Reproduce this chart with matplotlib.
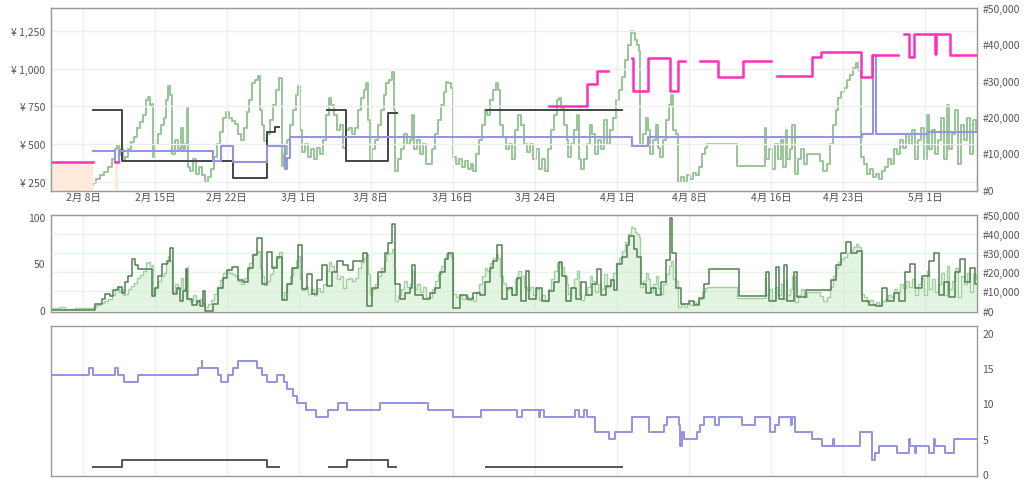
import numpy as np
import matplotlib.pyplot as plt
from matplotlib.ticker import FuncFormatter

plt.rcParams['font.family'] = ['Noto Sans CJK JP', 'DejaVu Sans']

nan = np.nan

# x = 2月1日からの日数
tick_days = [7, 14, 21, 28, 35, 43, 51, 59, 66, 74, 81, 89]
tick_labels = ['2月 8日', '2月 15日', '2月 22日', '3月 1日', '3月 8日', '3月 16日',
               '3月 24日', '4月 1日', '4月 8日', '4月 16日', '4月 23日', '5月 1日']
month_days = [28, 59, 89]
x_range = (3.88, 94.05)

# Amazon価格 (塗りつぶし)
amazon_days = [3.88, 7.97, 7.97, 10.12, 10.12, 10.45]
amazon_price = [383, 383, nan, nan, 383, 383]

# カート価格 (ピンク)
buybox_days = [3.88, 7.97, 10.12, 10.45, 52.4, 56.04, 57.01, 58.14, 60.42, 60.58, 61.98,
               64.15, 64.96, 65.6, 67.07, 68.86, 71.23, 73.95, 74.54, 77.95, 78.86, 82.75,
               83.79, 86.32, 86.97, 87.43, 87.94, 89.96, 90.05, 91.42, 94.05]
buybox_price = [383, nan, 383, nan, 755, 900, 988, nan, 1070, 851, 1070,
                851, 1055, nan, 1055, 948, 1055, nan, 955, 1077, 1115, 948,
                1095, nan, 1232, 1081, 1232, 1100, 1232, 1095, 1095]

# 新品価格 (青)
new_days = [7.97, 10.12, 10.51, 19.69, 20.41, 21.63, 24.93, 26.67, 26.86, 27.16,
            60.45, 61.98, 82.82, 83.92, 84.2, 89.28, 94.05]
new_price = [452, 383, 452, 390, 489, 383, 489, 337, 408, 545,
             489, 545, 567, 1095, 570, 583, 583]

# 中古価格 (黒)
used_days = [7.99, 10.75, 21.63, 24.88, 25.7, 26.11, 30.72, 32.6, 36.73, 37.54, 46.24, 59.45]
used_price = [729, 390, 273, 578, 616, nan, 727, 390, 705, nan, 727, nan]

# 売れ筋ランキング
rank_days = [3.88, 4.27, 4.76, 5.25, 5.73, 6.22, 6.71, 7.19, 7.68, 7.97,
             8.27, 8.66, 9.04, 9.43, 9.82, 10.12, 10.31, 10.51, 10.70, 10.89,
             11.09, 11.38, 11.67, 11.97, 12.26, 12.55, 12.84, 13.13, 13.33, 13.52,
             13.72, 13.77, 14.01, 14.30, 14.59, 14.89, 15.08, 15.28, 15.47, 15.62,
             15.67, 15.96, 16.25, 16.54, 16.74, 16.93, 17.08, 17.18, 17.42, 17.71,
             18.00, 18.29, 18.59, 18.88, 19.17, 19.46, 19.76, 20.05, 20.34, 20.63,
             20.92, 21.22, 21.51, 21.80, 22.09, 22.38, 22.68, 22.97, 23.16, 23.46,
             23.75, 24.04, 24.23, 24.43, 24.62, 24.92, 25.21, 25.50, 25.79, 26.08,
             26.33, 26.57, 26.86, 27.16, 27.45, 27.74, 27.93, 28.13, 28.32, 28.62,
             28.91, 29.20, 29.49, 29.78, 30.08, 30.37, 30.66, 30.95, 31.15, 31.44,
             31.73, 32.02, 32.32, 32.61, 32.90, 33.19, 33.48, 33.78, 34.07, 34.36,
             34.56, 34.75, 34.95, 35.14, 35.43, 35.72, 36.02, 36.31, 36.50, 36.80,
             37.09, 37.28, 37.38, 37.67, 37.96, 38.26, 38.55, 38.84, 39.03, 39.23,
             39.52, 39.81, 40.11, 40.40, 40.69, 40.98, 41.27, 41.57, 41.86, 42.15,
             42.35, 42.54, 42.83, 43.03, 43.32, 43.61, 43.90, 44.20, 44.49, 44.78,
             44.97, 45.27, 45.56, 45.85, 46.14, 46.34, 46.63, 46.92, 47.21, 47.41,
             47.60, 47.90, 48.19, 48.48, 48.77, 49.06, 49.36, 49.65, 49.94, 50.23,
             50.52, 50.82, 51.11, 51.40, 51.69, 51.98, 52.28, 52.57, 52.86, 53.15,
             53.35, 53.54, 53.83, 54.13, 54.22, 54.52, 54.81, 55.10, 55.30, 55.49,
             55.78, 56.07, 56.37, 56.56, 56.85, 57.15, 57.44, 57.73, 58.02, 58.31,
             58.61, 58.90, 59.19, 59.48, 59.77, 60.07, 60.36, 60.55, 60.75, 60.94,
             61.14, 61.24, 61.53, 61.82, 62.01, 62.21, 62.50, 62.79, 62.99, 63.18,
             63.47, 63.77, 64.06, 64.25, 64.45, 64.74, 64.94, 65.23, 65.52, 65.81,
             66.10, 66.40, 66.69, 66.98, 67.27, 67.56, 67.76, 70.68, 73.41, 73.50,
             73.80, 74.09, 74.38, 74.67, 74.96, 75.16, 75.45, 75.55, 75.84, 76.04,
             76.33, 76.62, 76.91, 77.20, 77.50, 78.76, 79.05, 79.44, 79.74, 80.03,
             80.32, 80.51, 80.81, 81.10, 81.39, 81.68, 81.97, 82.27, 82.46, 82.75,
             83.05, 83.34, 83.63, 83.92, 84.21, 84.51, 84.80, 85.09, 85.38, 85.67,
             85.97, 86.26, 86.55, 86.84, 87.14, 87.43, 87.72, 88.01, 88.30, 88.60,
             88.89, 89.18, 89.37, 89.67, 89.96, 90.25, 90.54, 90.84, 91.13, 91.32,
             91.62, 91.91, 92.20, 92.49, 92.79, 93.08, 93.37, 93.66, 93.95, 94.05]
rank_vals = [1600, 1300, 1800, 1000, 1000, 1300, 1300, 1600, 1300, 1800,
             2900, 4000, 4800, 6200, 8400, 11100, 12200, 9500, 11100, 8400,
             8900, 11100, 13000, 14600, 17100, 18700, 20600, 24700, 25500, 23300,
             23600, 8900, 12500, 15200, 17900, 19800, 24700, 28500, 26100, 19800,
             9700, 13800, 11100, 17100, 11100, 12500, 22500, 6200, 5100, 8400,
             4300, 6200, 4000, 2100, 3500, 5600, 8900, 12500, 16000, 19800,
             21400, 19800, 19000, 18200, 15200, 13800, 17100, 21400, 24700, 29300,
             30200, 31300, 22000, 17900, 13300, 15200, 19300, 23300, 27400, 30700,
             6500, 9700, 13800, 17900, 22000, 26100, 28500, 16500, 10500, 12500,
             8900, 11100, 8400, 11600, 9700, 13800, 20600, 25300, 23300, 20600,
             16500, 17900, 11600, 16500, 17100, 15200, 17100, 22000, 25300, 27400,
             29300, 19300, 8400, 11100, 13800, 17900, 22000, 26100, 29300, 30200,
             32300, 22000, 5100, 8400, 11100, 15200, 12500, 13800, 20600, 11100,
             13800, 9700, 12500, 7000, 7000, 11100, 15200, 19300, 23300, 26900,
             29600, 29300, 28000, 8900, 7000, 8400, 6200, 7800, 5600, 7000,
             5100, 9700, 13800, 17900, 22000, 20600, 24700, 27400, 29300, 27400,
             17900, 14400, 11100, 12500, 8400, 16500, 20600, 17900, 12500, 10500,
             12500, 8400, 11100, 5600, 8400, 5100, 11100, 16500, 20600, 24700,
             25300, 22500, 17900, 13800, 8900, 12500, 16500, 20600, 8400, 5600,
             8400, 12500, 17900, 15200, 9700, 13800, 11100, 19300, 12500, 16500,
             19800, 24700, 27400, 31000, 35600, 39700, 43800, 43000, 41100, 39700,
             38300, 12500, 15200, 19800, 16500, 9700, 13800, 17900, 11600, 8900,
             13800, 19300, 23300, 26100, 16500, 15200, 2100, 3500, 2100, 4000,
             2900, 4600, 4000, 6200, 9700, 11600, 12500, 6500, 17100, 8400,
             11100, 5600, 12500, 8400, 13800, 6200, 16500, 8400, 11100, 17900,
             4300, 8400, 11100, 7000, 9700, 7800, 5100, 7000, 12500, 17900,
             22000, 25300, 26900, 28000, 30200, 31500, 33400, 34800, 32900, 8900,
             7000, 4300, 5600, 3500, 4300, 2900, 5100, 6200, 8400, 7000,
             11100, 9700, 13800, 11600, 15200, 12500, 16500, 8400, 13800, 17100,
             8400, 20600, 11100, 16500, 9700, 13800, 19800, 8400, 23300, 11100,
             15200, 22000, 7000, 17900, 13800, 19800, 9700, 19300, 16500, 16500]

# サブカテゴリのランキング (中段の濃い緑)
rank2_days = [3.95, 5.41, 7.03, 8.17, 8.82, 9.14, 9.63, 9.95, 10.44, 10.77,
              11.09, 11.41, 11.74, 12.06, 12.38, 13.69, 14.01, 14.33, 14.66, 15.14,
              15.47, 15.73, 16.12, 16.44, 16.77, 17.00, 17.09, 17.58, 18.07, 18.39,
              18.71, 18.88, 19.69, 20.17, 20.66, 20.99, 21.48, 22.12, 22.61, 23.10,
              23.58, 23.97, 24.40, 24.89, 25.37, 25.86, 26.35, 26.83, 27.32, 27.97,
              28.29, 28.78, 29.27, 29.75, 30.24, 30.73, 31.21, 31.70, 32.35, 32.84,
              33.32, 34.29, 34.62, 35.11, 35.75, 36.40, 36.73, 37.05, 37.38, 37.87,
              38.35, 38.84, 39.06, 39.33, 40.14, 40.79, 41.27, 41.76, 42.25, 42.57,
              43.06, 43.71, 44.36, 45.01, 45.66, 46.14, 46.63, 46.95, 47.28, 47.77,
              48.25, 48.80, 49.28, 49.61, 50.09, 50.42, 51.07, 51.72, 52.37, 52.86,
              53.34, 53.67, 53.99, 54.48, 54.97, 55.45, 55.94, 56.59, 57.08, 57.40,
              57.89, 58.37, 58.71, 59.03, 59.52, 60.00, 60.17, 60.66, 60.98, 61.31,
              61.79, 62.28, 62.77, 63.25, 63.74, 64.13, 64.39, 64.71, 65.20, 66.02,
              66.50, 66.99, 67.47, 67.96, 70.88, 73.47, 73.80, 74.44, 74.77, 75.25,
              75.58, 76.22, 76.55, 77.36, 79.31, 79.79, 80.28, 80.77, 81.25, 81.74,
              82.39, 82.88, 83.52, 84.17, 84.82, 85.30, 85.95, 86.44, 87.08, 87.57,
              88.05, 88.70, 89.35, 89.84, 90.33, 90.81, 91.30, 91.95, 92.43, 92.92,
              93.40, 93.89, 94.05]
rank2_vals = [500, 300, 200, 3500, 6000, 8500, 7500, 10500, 12100, 9000,
              15000, 18300, 27100, 24000, 21800, 7600, 12000, 18000, 24500, 26000,
              32400, 8500, 12000, 5000, 10000, 21800, 6000, 3000, 5000, 2500,
              10300, 0, 3500, 12000, 17000, 21000, 23000, 16000, 14700, 22000,
              28900, 37800, 13800, 30700, 22000, 28000, 5300, 14000, 22000, 34200,
              11200, 19000, 8500, 16000, 24000, 13000, 20000, 26000, 23600, 21000,
              26000, 29800, 2300, 12000, 20000, 30000, 35000, 44900, 13800, 6000,
              9000, 12000, 23600, 8000, 6000, 9400, 12000, 20000, 27000, 30100,
              1400, 8000, 6000, 9400, 8000, 15000, 22000, 26000, 34200, 5900,
              12000, 8000, 17000, 5000, 20600, 6000, 12000, 5000, 10000, 15000,
              25400, 18000, 5000, 12000, 6000, 15000, 8000, 14000, 21800, 8000,
              13000, 16000, 11000, 24500, 28000, 34000, 38700, 32000, 28000, 13800,
              9000, 12000, 8000, 15000, 26200, 48400, 30000, 12000, 3500, 5000,
              3200, 6700, 13800, 21800, 7600, 20000, 5000, 23000, 6000, 24000,
              5000, 20000, 7000, 10800, 10800, 16000, 24000, 30000, 36000, 30000,
              31000, 5000, 3000, 2500, 12000, 5000, 9000, 5000, 20000, 24500,
              12000, 18000, 26000, 29800, 8000, 15000, 7000, 20000, 27100, 15000,
              22000, 13800, 13800]

# 出品者数 (新品 / 中古)
new_cnt_days = [3.95, 7.61, 8.00, 10.12, 10.44, 10.99, 12.38, 18.23, 18.56, 18.63,
                20.17, 20.41, 21.15, 21.58, 22.06, 23.97, 24.40, 24.95, 25.86, 26.57,
                26.89, 27.48, 27.80, 28.71, 29.69, 30.88, 31.86, 32.68, 35.92, 40.62,
                43.06, 45.72, 49.26, 49.75, 51.37, 51.53, 51.86, 54.94, 55.27, 55.75,
                56.07, 56.88, 58.19, 58.83, 60.46, 62.08, 63.54, 63.86, 65.00, 65.13,
                65.32, 65.52, 66.78, 67.08, 67.44, 68.57, 68.90, 71.17, 72.46, 73.92,
                74.41, 74.74, 75.94, 76.03, 76.36, 77.98, 78.96, 80.03, 80.12, 82.68,
                83.82, 84.14, 84.47, 86.26, 87.40, 87.52, 88.01, 88.11, 89.34, 89.86,
                89.96, 90.96, 91.84, 94.05]
new_cnt = [14, 15, 14, 15, 14, 13, 14, 15, 16, 15,
           14, 13, 14, 15, 16, 15, 14, 13, 14, 13,
           12, 11, 10, 9, 8, 9, 10, 9, 10, 9,
           8, 9, 8, 9, 8, 9, 8, 9, 8, 9,
           8, 6, 5, 6, 8, 6, 7, 8, 7, 4,
           6, 5, 6, 7, 8, 7, 8, 7, 8, 6,
           7, 8, 7, 8, 6, 5, 4, 5, 4, 6,
           2, 3, 4, 3, 5, 4, 3, 4, 3, 5,
           4, 3, 5, 5]

used_cnt_days = [7.99, 10.75, 24.89, 26.11, 30.91, 32.67, 36.66, 37.48, 46.24, 59.48]
used_cnt = [1, 2, 1, nan, 1, 2, 1, nan, 1, nan]


def estilo(ax):
    for s in ax.spines.values():
        s.set_color('#9a9a9a')
        s.set_linewidth(1)
    ax.tick_params(axis='both', which='major', length=0, labelsize=7.5,
                   labelcolor='#555555', pad=4)
    ax.set_xlim(*x_range)
    ax.set_xticks(tick_days)
    ax.set_xticks(month_days, minor=True)
    ax.tick_params(axis='x', which='minor', direction='in', length=3, color='#999999')
    ax.grid(axis='x', color='#eeeeee', linewidth=1)
    ax.set_axisbelow(True)


def eixo_rank(ax_base):
    # eixo direito (#) sobre o mesmo x, sem mexer nos rótulos de data
    axr = ax_base.twinx()
    for s in axr.spines.values():
        s.set_color('#9a9a9a')
    axr.tick_params(axis='y', length=0, labelsize=7.5, labelcolor='#555555', pad=4)
    axr.set_yticks(range(0, 50001, 10000))
    axr.yaxis.set_major_formatter(FuncFormatter(lambda v, p: '#{:,}'.format(int(v))))
    return axr


fig = plt.figure(figsize=(10.24, 4.81), dpi=100)

# ---- 上段: 価格 + ランキング
ax1 = fig.add_axes([0.0498, 0.6008, 0.9043, 0.3805])
estilo(ax1)
ax1r = eixo_rank(ax1)
ax1.set_zorder(ax1r.get_zorder() + 1)
ax1.patch.set_visible(False)

ax1r.step(rank_days, rank_vals, where='post', color='#97c697', lw=1.4)
ax1r.set_ylim(-360, 50000)

ax1.fill_between(amazon_days, amazon_price, 0, color='#fdeadb', lw=0)
ax1.step(used_days, used_price, where='post', color='#444444', lw=1.4)
ax1.step(new_days, new_price, where='post', color='#9494e0', lw=1.5)
ax1.step(buybox_days, buybox_price, where='post', color='#ff2fb9', lw=1.8)
ax1.set_ylim(188, 1405)
ax1.set_yticks([250, 500, 750, 1000, 1250])
ax1.yaxis.set_major_formatter(FuncFormatter(lambda v, p: '¥ {:,}'.format(int(v))))
ax1.grid(axis='y', color='#eeeeee', linewidth=1)
ax1.set_xticklabels(tick_labels)
ax1.tick_params(axis='x', which='major', pad=1)

# ---- 中段: ランキング詳細
ax2 = fig.add_axes([0.0498, 0.3493, 0.9043, 0.2023])
estilo(ax2)
ax2.set_ylim(-2.1, 102.1)
ax2.set_yticks([0, 50, 100])
ax2.set_xticklabels([])
ax2r = eixo_rank(ax2)

ax2r.fill_between(rank_days, rank_vals, 0, step='post', color='#cdebcd', alpha=0.55, lw=0)
ax2r.step(rank_days, rank_vals, where='post', color='#a3d0a3', lw=1)
ax2r.step(rank2_days, rank2_vals, where='post', color='#527f52', lw=1.1)
ax2r.set_ylim(-700, 50000)
ax2r.grid(axis='y', color='#e4f5e4', linewidth=1)
ax2r.set_axisbelow(True)

# ---- 下段: 出品者数
ax3 = fig.add_axes([0.0498, 0.0089, 0.9043, 0.3106])
estilo(ax3)
ax3.step(new_cnt_days, new_cnt, where='post', color='#9494e0', lw=1.4)
ax3.step(used_cnt_days, used_cnt, where='post', color='#555555', lw=1.4)
ax3.set_ylim(-0.25, 20.9)
ax3.yaxis.tick_right()
ax3.set_yticks([0, 5, 10, 15, 20])
ax3.set_xticklabels([])
ax3.tick_params(axis='y', length=0)

fig.savefig('out.png', dpi=100)
